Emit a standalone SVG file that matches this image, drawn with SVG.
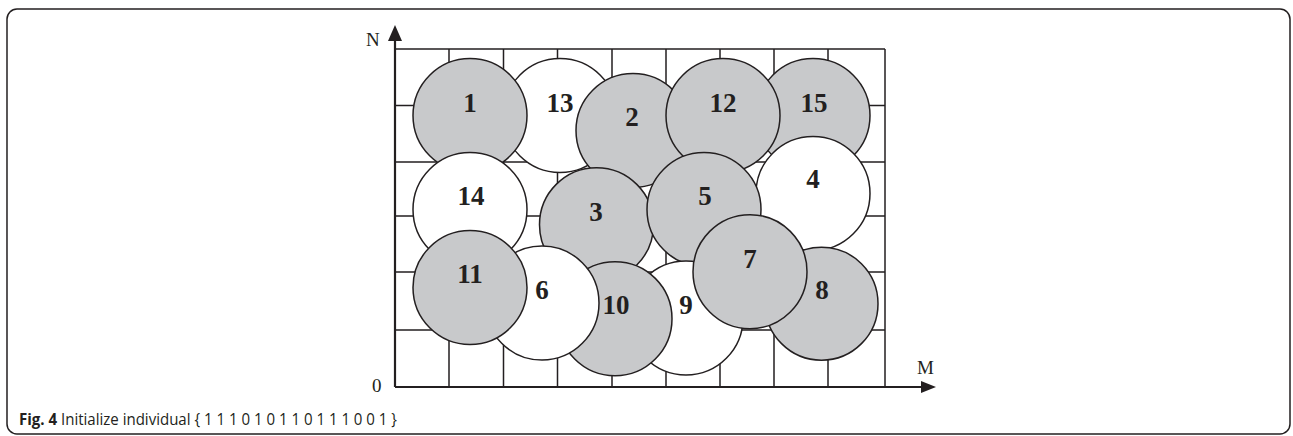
<svg xmlns="http://www.w3.org/2000/svg" width="1293" height="436" viewBox="0 0 1293 436">
<defs>
<style>
.grid{stroke:#231f20;stroke-width:1.5;fill:none}
.axis{stroke:#231f20;stroke-width:2.2;fill:none}
.g{fill:#c8c9cb;stroke:#231f20;stroke-width:1.5}
.w{fill:#ffffff;stroke:#231f20;stroke-width:1.5}
.lbl{font-family:"Liberation Serif",serif;font-weight:bold;font-size:27px;fill:#231f20;text-anchor:middle}
.ax{font-family:"Liberation Serif",serif;font-size:19px;fill:#231f20}
.cap{font-family:"Open Sans","Liberation Sans",sans-serif;font-size:16px;fill:#231f20}
</style>
</defs>
<rect x="7" y="9" width="1283" height="425" rx="10" fill="#ffffff" stroke="#231f20" stroke-width="1.5"/>
<g id="grid" class="grid">
<path d="M395 49H885M395 105.5H885M395 162H885M395 216H885M395 272H885M395 330H885"/>
<path d="M449 49V387M503.5 49V387M557.5 49V387M612 49V387M666 49V387M720 49V387M774 49V387M828 49V387M885 49V387"/>
</g>
<g id="axes">
<path class="axis" d="M395 387V38M395 387H924"/>
<polygon points="395,25 388,41 402,41" fill="#231f20"/>
<polygon points="936,387 921,381 921,393" fill="#231f20"/>
<text class="ax" x="366" y="46">N</text>
<text class="ax" x="372" y="392">0</text>
<text class="ax" x="917" y="374">M</text>
</g>
<g id="n13"><circle class="w" cx="560" cy="115.5" r="57"/><text class="lbl" x="560" y="112">13</text></g>
<g id="n2"><circle class="g" cx="633" cy="130.5" r="57"/><text class="lbl" x="632" y="126">2</text></g>
<g id="n1"><circle class="g" cx="470" cy="115.5" r="57"/><text class="lbl" x="470" y="112">1</text></g>
<g id="n15"><circle class="g" cx="813" cy="115.5" r="57"/><text class="lbl" x="814" y="112">15</text></g>
<g id="n12"><circle class="g" cx="723" cy="115.5" r="57"/><text class="lbl" x="723" y="112">12</text></g>
<g id="n14"><circle class="w" cx="470" cy="209.5" r="57"/><text class="lbl" x="471" y="205">14</text></g>
<g id="n3"><circle class="g" cx="596.5" cy="224.7" r="57"/><text class="lbl" x="596" y="221">3</text></g>
<g id="n4"><circle class="w" cx="813" cy="193.5" r="57"/><text class="lbl" x="813" y="188">4</text></g>
<g id="n5"><circle class="g" cx="704" cy="209.5" r="57"/><text class="lbl" x="705" y="205">5</text></g>
<g id="n9"><circle class="w" cx="686" cy="318" r="57"/><text class="lbl" x="686" y="314">9</text></g>
<g id="n10"><circle class="g" cx="615" cy="318.7" r="57"/><text class="lbl" x="616" y="314">10</text></g>
<g id="n6"><circle class="w" cx="542" cy="303" r="57"/><text class="lbl" x="542" y="299">6</text></g>
<g id="n11"><circle class="g" cx="470" cy="287.5" r="57"/><text class="lbl" x="470" y="283">11</text></g>
<g id="n8"><circle class="g" cx="821.5" cy="303.7" r="56.5"/><text class="lbl" x="822" y="299">8</text></g>
<g id="n7"><circle class="g" cx="750" cy="271.7" r="57"/><text class="lbl" x="750" y="268">7</text></g>
<g id="caption">
<text class="cap" x="19" y="425" textLength="378" lengthAdjust="spacingAndGlyphs"><tspan font-weight="bold">Fig. 4</tspan> Initialize individual { 1 1 1 0 1 0 1 1 0 1 1 1 0 0 1 }</text>
</g>
</svg>
